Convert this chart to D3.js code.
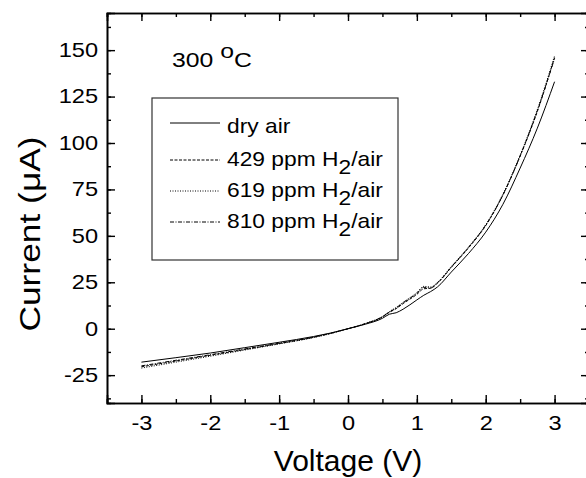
<!DOCTYPE html>
<html><head><meta charset="utf-8">
<script src="https://cdn.jsdelivr.net/npm/d3@7"></script>
<style>
body{margin:0;background:#fff;}
svg{display:block;font-family:Arial,"Liberation Sans",sans-serif;}
</style></head>
<body><svg id="c" width="586" height="478"></svg>
<script>
const voltage = [-3, -2.5, -2, -1.5, -1, -0.5, -0.25, 0, 0.25, 0.5, 0.6, 0.7, 0.8, 1.0, 1.1, 1.2, 1.3, 1.5, 1.75, 2.0, 2.25, 2.5, 2.75, 3.0];
const dryAir = [-18, -15.6, -13.1, -10.2, -7.3, -4.2, -2.3, 0, 2.4, 5.6, 7.8, 8.6, 10.5, 15.5, 18, 20, 22.5, 30.5, 40.5, 52, 67, 86.5, 108, 133];
const h2_429 = [-20.5, -17.4, -14.3, -11.2, -8, -4.6, -2.5, 0, 2.7, 6.3, 8.8, 10.8, 13.5, 18.5, 21.5, 21.8, 24.5, 33, 43.5, 55.5, 72, 93, 117, 146];
const h2_619 = [-21.2, -18, -14.8, -11.5, -8.2, -4.8, -2.6, 0, 2.8, 6.6, 9.2, 11.5, 14.2, 19.5, 22.8, 22.5, 25, 33.5, 44, 56, 72.5, 93.5, 118, 147];
const h2_810 = [-20, -17, -14, -10.9, -7.8, -4.5, -2.4, 0, 2.7, 6.5, 9, 11.2, 14, 19, 22.3, 22, 24.8, 33.2, 43.8, 55.8, 72, 93, 117.5, 145.5];
const seriesNames = ["dry air", "429", "619", "810"];
const xTicks = [-3, -2, -1, 0, 1, 2, 3];
const yTicks = [-25, 0, 25, 50, 75, 100, 125, 150];

const svg = d3.select("#c");
const x = d3.scaleLinear().domain([-3.5, 3.5]).range([107, 589]);
const y = d3.scaleLinear().domain([-40, 170]).range([403, 13]);

const dashes = ["none", "3,1.5", "1,1.5", "4,1.5,1,1.5"];
const series = [dryAir, h2_429, h2_619, h2_810];

const line = d3.line().x(d => x(d[0])).y(d => y(d[1])).curve(d3.curveMonotoneX);
series.forEach((s, i) => {
  svg.append("path").datum(voltage.map((v, j) => [v, s[j]]))
    .attr("d", line).attr("fill", "none").attr("stroke", "#000")
    .attr("stroke-width", 1).attr("stroke-dasharray", dashes[i]);
});

const xMinor = d3.range(-3.5, 3.51, 0.5);
const yMinor = d3.range(-37.5, 170, 12.5);
const SX = 1.18;

function styleAxis(g) {
  g.select(".domain").attr("stroke", "#000").attr("stroke-width", 1.6);
  g.selectAll(".tick line").attr("stroke", "#000").attr("stroke-width", 1.4);
}
// minor
svg.append("g").attr("transform", `translate(0,403)`).call(d3.axisBottom(x).tickValues(xMinor).tickSize(-4).tickFormat("")).call(styleAxis);
svg.append("g").attr("transform", `translate(0,13)`).call(d3.axisTop(x).tickValues(xMinor).tickSize(-4).tickFormat("")).call(styleAxis);
svg.append("g").attr("transform", `translate(107,0)`).call(d3.axisLeft(y).tickValues(yMinor).tickSize(-4).tickFormat("")).call(styleAxis);
svg.append("g").attr("transform", `translate(589,0)`).call(d3.axisRight(y).tickValues(yMinor).tickSize(-4).tickFormat("")).call(styleAxis);
// major
const gx = svg.append("g").attr("transform", `translate(0,403)`)
  .call(d3.axisBottom(x).tickValues(xTicks).tickSize(-8).tickPadding(13).tickFormat(d3.format("d"))).call(styleAxis);
svg.append("g").attr("transform", `translate(0,13)`).call(d3.axisTop(x).tickValues(xTicks).tickSize(-8).tickFormat("")).call(styleAxis);
const gy = svg.append("g").attr("transform", `translate(107,0)`)
  .call(d3.axisLeft(y).tickValues(yTicks).tickSize(-8).tickPadding(9).tickFormat(d3.format("d"))).call(styleAxis);
svg.append("g").attr("transform", `translate(589,0)`).call(d3.axisRight(y).tickValues(yTicks).tickSize(-8).tickFormat("")).call(styleAxis);

gx.selectAll("text").attr("font-size", 20).attr("font-family", "Arial,'Liberation Sans',sans-serif").attr("fill", "#000")
  .attr("transform", `scale(${SX},1)`);
gy.selectAll("text").attr("font-size", 20).attr("font-family", "Arial,'Liberation Sans',sans-serif").attr("fill", "#000")
  .attr("x", -9 / SX).attr("transform", `scale(${SX},1)`);
gx.selectAll("text").text(d => d < 0 ? "-" + Math.abs(d) : d);
gy.selectAll("text").text(d => d < 0 ? "-" + Math.abs(d) : d);

// axis titles
svg.append("text").attr("x", 348).attr("y", 471).attr("text-anchor", "middle")
  .attr("font-size", 30).text("Voltage (V)");
svg.append("text").attr("transform", "translate(40,234) rotate(-90) scale(1.22,1)")
  .attr("text-anchor", "middle").attr("font-size", 29)
  .text("Current (\u03bcA)");

// annotation
const ann = svg.append("text").attr("transform", "translate(172,67) scale(1.18,1)").attr("font-size", 21);
ann.append("tspan").text("300 ");
ann.append("tspan").attr("dy", -9).text("o");
ann.append("tspan").attr("dy", 9).text("C");

// legend
svg.append("rect").attr("x", 152).attr("y", 98).attr("width", 246).attr("height", 162)
  .attr("fill", "none").attr("stroke", "#333").attr("stroke-width", 1.2);
const rowY = [123, 160, 191, 222];
seriesNames.forEach((n, i) => {
  svg.append("line").attr("x1", 170).attr("x2", 220).attr("y1", rowY[i]).attr("y2", rowY[i])
    .attr("stroke", "#000").attr("stroke-width", 1).attr("stroke-dasharray", dashes[i]);
  const t = svg.append("text").attr("transform", `translate(227,${rowY[i] + (i === 0 ? 10 : 6)}) scale(1.14,1)`)
    .attr("font-size", 20);
  if (i === 0) { t.text(n); }
  else {
    t.append("tspan").text(n + " ppm H");
    t.append("tspan").attr("dy", 8).text("2");
    t.append("tspan").attr("dy", -8).text("/air");
  }
});
</script></body></html>
